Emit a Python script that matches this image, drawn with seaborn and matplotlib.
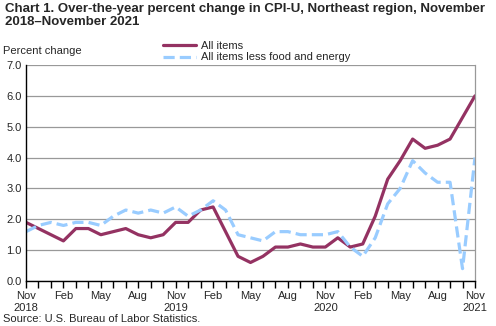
import matplotlib
matplotlib.use("Agg")
import matplotlib.pyplot as plt
import seaborn as sns
import pandas as pd
import numpy as np
from matplotlib.lines import Line2D

months = ["Nov", "Dec", "Jan", "Feb", "Mar", "Apr", "May", "Jun", "Jul", "Aug", "Sep", "Oct"] * 3 + ["Nov"]
years = [2018, 2018] + [2019] * 12 + [2020] * 12 + [2021] * 11
all_items = [1.9, 1.7, 1.5, 1.3, 1.7, 1.7, 1.5, 1.6, 1.7, 1.5, 1.4, 1.5,
             1.9, 1.9, 2.3, 2.4, 1.6, 0.8, 0.6, 0.8, 1.1, 1.1, 1.2, 1.1,
             1.1, 1.4, 1.1, 1.2, 2.1, 3.3, 3.9, 4.6, 4.3, 4.4, 4.6, 5.3, 6.0]
core = [1.6, 1.8, 1.9, 1.8, 1.9, 1.9, 1.8, 2.1, 2.3, 2.2, 2.3, 2.2,
        2.4, 2.1, 2.3, 2.6, 2.3, 1.5, 1.4, 1.3, 1.6, 1.6, 1.5, 1.5,
        1.5, 1.6, 1.1, 0.8, 1.4, 2.5, 3.0, 3.9, 3.5, 3.2, 3.2, 0.4, 4.0]
tick_labels = ["Nov\n2018", "Feb", "May", "Aug", "Nov\n2019", "Feb", "May", "Aug",
               "Nov\n2020", "Feb", "May", "Aug", "Nov\n2021"]
y_ticks = [0.0, 1.0, 2.0, 3.0, 4.0, 5.0, 6.0, 7.0]

sns.set_style("white")
plt.rcParams['font.family'] = ['Liberation Sans', 'DejaVu Sans']

idx = np.arange(len(all_items))
df = pd.concat([
    pd.DataFrame({"t": idx, "v": all_items, "s": "All items"}),
    pd.DataFrame({"t": idx, "v": core, "s": "All items less food and energy"}),
])

fig = plt.figure(figsize=(4.96, 3.26), dpi=100)
W, H = 496, 326
ax = fig.add_axes([26 / W, 1 - 281 / H, (475 - 26) / W, (281 - 65) / H])

palette = {"All items": "#943262", "All items less food and energy": "#99CCFF"}
sns.lineplot(data=df, x="t", y="v", hue="s", style="s", palette=palette,
             dashes={"All items": "", "All items less food and energy": (3.5, 1.6)},
             linewidth=2.3, ax=ax, legend=False, sort=False)

ax.set_xlim(0, 36)
ax.set_ylim(0, 7)
ax.set_yticks(y_ticks)
ax.set_yticklabels([f"{v:.1f}" for v in y_ticks], fontsize=8)
ax.set_xticks(np.arange(0, 37, 3))
ax.set_xticklabels(tick_labels, fontsize=8, linespacing=1.3)
ax.set_xticks(np.arange(0, 37, 1), minor=True)
ax.tick_params(axis="x", which="both", direction="out", length=5, width=1, color="black", bottom=True, pad=2)
ax.tick_params(axis="y", which="both", length=0, pad=3)
ax.set_xlabel("")
ax.set_ylabel("")
ax.grid(axis="y", color="#999999", linewidth=0.9)
ax.set_axisbelow(True)
ax.spines["right"].set_color("#999999")
ax.spines["right"].set_linewidth(0.9)
ax.spines["top"].set_visible(False)
for s in ["left", "bottom"]:
    ax.spines[s].set_color("black")
    ax.spines[s].set_linewidth(1.0)

fig.text(5 / W, 1 - 3 / H, "Chart 1. Over-the-year percent change in CPI-U, Northeast region, November\n2018\u2013November 2021",
         fontsize=9.5, fontweight="bold", va="top", ha="left", linespacing=1.15)
fig.text(3 / W, 1 - 51 / H, "Percent change", fontsize=8, va="center", ha="left")

handles = [Line2D([], [], color="#943262", lw=2.3),
           Line2D([], [], color="#99CCFF", lw=2.3, dashes=(3.5, 1.6))]
fig.legend(handles, ["All items", "All items less food and energy"], loc="upper left",
           bbox_to_anchor=(155 / W, 1 - 33 / H), frameon=False, fontsize=8,
           handlelength=3.0, handletextpad=0.4, labelspacing=0.15, borderpad=0.2)

fig.text(3 / W, 1 - 319 / H, "Source: U.S. Bureau of Labor Statistics.", fontsize=8, va="center", ha="left")

fig.savefig("out.png", dpi=100)
